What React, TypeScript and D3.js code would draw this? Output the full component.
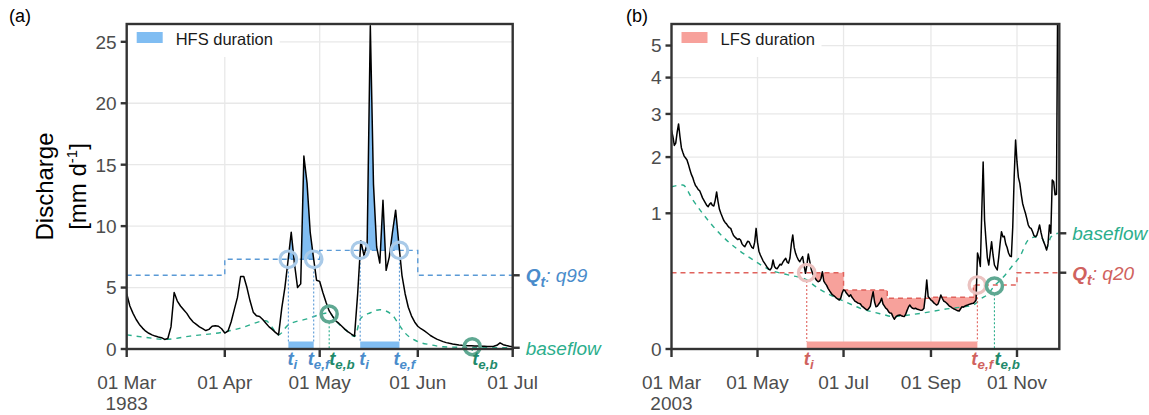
import React from "react";
import * as d3 from "d3";

const FONT = "'Liberation Sans', Arial, Helvetica, sans-serif";

// ---------------- Panel (a): 1983, high-flow spell ----------------
const aStart = "1983-03-01";
const aEnd = "1983-07-01";
const aDischarge = [
  4.5, 3.5, 2.9, 2.4, 2.0, 1.7, 1.45, 1.28, 1.15, 1.05,
  0.98, 0.92, 0.78, 0.85, 1.8, 4.6, 3.9, 3.5, 3.2, 2.9,
  2.5, 2.2, 2.0, 1.8, 1.65, 1.5, 1.6, 1.85, 1.9, 1.85,
  1.65, 1.3, 1.45, 2.2, 3.2, 4.2, 5.9, 5.9, 5.0, 3.9,
  3.0, 2.7, 2.65, 2.4, 2.1, 1.8, 1.6, 1.35, 1.15, 3.3,
  5.0, 7.2, 9.5, 7.0, 5.0, 5.3, 15.7, 13.5, 9.5, 7.5,
  5.6, 5.5, 4.6, 3.8, 3.1, 2.7, 2.3, 2.1, 1.85, 1.6,
  1.4, 1.22, 1.05, 4.5, 8.8, 7.6, 8.6, 26.3, 13.4, 8.3,
  7.0, 12.1, 6.4, 7.5, 9.5, 11.3, 8.6, 6.0, 4.5, 3.4,
  2.7, 2.2, 1.85, 1.65, 1.5, 1.3, 1.1, 0.95, 0.8, 0.7,
  0.6, 0.52, 0.46, 0.41, 0.37, 0.33, 0.3, 0.28, 0.27, 0.26,
  0.25, 0.24, 0.23, 0.22, 0.21, 0.2, 0.22, 0.3, 0.5, 0.35,
  0.28, 0.22, 0.18,
];
const aBaseDay = [0, 6, 12, 20, 31, 36, 44, 46, 48, 51, 57, 64, 66, 69, 72, 74, 77, 80, 84, 86, 88, 92, 96, 100, 110, 122];
const aBaseVal = [1.15, 0.95, 0.78, 1.05, 1.4, 1.7, 2.3, 1.75, 1.15, 1.95, 2.45, 2.95, 2.3, 1.6, 1.02, 2.5, 2.95, 3.2, 2.75, 2.0, 1.3, 0.6, 0.35, 0.18, 0.12, 0.1];
const aQtBreaks = ["1983-03-01", "1983-04-01", "1983-05-01", "1983-06-01", "1983-07-01"];
const aQtValues = [6.0, 7.3, 8.03, 6.0];
const aOnset = [51.1, 73.8];
const aEndF = [59.1, 86.2];
const aEndB = [64.0, 109.2];
const aEndBVal = [2.85, 0.19];
const aYTicks = [0, 5, 10, 15, 20, 25];
const aXTicks = ["1983-03-01", "1983-04-01", "1983-05-01", "1983-06-01", "1983-07-01"];
const aXTickLabels = ["01 Mar", "01 Apr", "01 May", "01 Jun", "01 Jul"];
const aYear = "1983";

// ---------------- Panel (b): 2003, low-flow spell ----------------
const bStart = "2003-03-01";
const bEnd = "2003-12-01";
const bDischarge = [
  2.6, 2.45, 2.25, 2.3, 2.55, 2.75, 2.45, 2.2, 2.1, 2.02,
  1.98, 1.94, 1.85, 1.75, 1.66, 1.6, 1.52, 1.45, 1.42, 1.38,
  1.36, 1.3, 1.24, 1.2, 1.16, 1.12, 1.1, 1.14, 1.16, 1.12,
  1.11, 1.2, 1.34, 1.18, 1.06, 1.0, 0.95, 0.9, 0.87, 0.85,
  0.82, 0.8, 0.79, 0.74, 0.7, 0.68, 0.665, 0.65, 0.66, 0.645,
  0.6, 0.58, 0.568, 0.6, 0.63, 0.625, 0.59, 0.56, 0.55, 0.62,
  0.79, 0.62, 0.52, 0.48, 0.45, 0.42, 0.4, 0.38, 0.36, 0.345,
  0.34, 0.36, 0.43, 0.37, 0.354, 0.35, 0.37, 0.39, 0.383, 0.41,
  0.43, 0.447, 0.41, 0.4, 0.45, 0.6, 0.706, 0.56, 0.497, 0.46,
  0.43, 0.414, 0.44, 0.463, 0.38, 0.311, 0.38, 0.49, 0.42, 0.35,
  0.311, 0.29, 0.27, 0.255, 0.246, 0.25, 0.27, 0.324, 0.25, 0.234,
  0.22, 0.2, 0.185, 0.172, 0.16, 0.155, 0.148, 0.14, 0.135, 0.13,
  0.14, 0.17, 0.19, 0.185, 0.17, 0.16, 0.15, 0.16, 0.145, 0.135,
  0.125, 0.12, 0.115, 0.113, 0.11, 0.1, 0.095, 0.09, 0.085, 0.083,
  0.09, 0.1, 0.14, 0.178, 0.12, 0.097, 0.1, 0.11, 0.12, 0.14,
  0.11, 0.1, 0.09, 0.085, 0.075, 0.07, 0.069, 0.057, 0.048, 0.055,
  0.06, 0.062, 0.063, 0.06, 0.058, 0.057, 0.065, 0.08, 0.095, 0.105,
  0.095, 0.09, 0.088, 0.09, 0.087, 0.085, 0.083, 0.082, 0.083, 0.09,
  0.15, 0.259, 0.149, 0.14, 0.13, 0.125, 0.115, 0.11, 0.105, 0.11,
  0.13, 0.158, 0.14, 0.125, 0.121, 0.115, 0.108, 0.1, 0.097, 0.092,
  0.088, 0.085, 0.082, 0.079, 0.078, 0.088, 0.097, 0.095, 0.1, 0.103,
  0.105, 0.108, 0.11, 0.112, 0.113, 0.12, 0.13, 0.5, 0.45, 0.37,
  1.0, 1.9, 0.9, 0.645, 0.45, 0.383, 0.5, 0.625, 0.48, 0.383,
  0.36, 0.339, 0.45, 0.6, 0.747, 0.685, 0.69, 0.6, 0.56, 0.5,
  0.47, 0.463, 0.812, 1.6, 2.37, 1.9, 1.6, 1.49, 1.3, 1.15,
  1.07, 1.0, 0.92, 0.835, 0.8, 0.79, 0.75, 0.7, 0.685, 0.7,
  0.76, 0.835, 0.74, 0.665, 0.62, 0.58, 0.532, 0.6, 0.835, 0.727,
  1.55, 1.52, 1.29, 1.3, 8.0,
];
const bBaseDay = [0, 8, 15, 22, 34, 46, 58, 70, 82, 96, 101, 112, 122, 134, 150, 157, 167, 180, 193, 205, 214, 220, 224, 229, 236, 242, 247, 253, 259, 263, 266, 269, 274];
const bBaseVal = [1.43, 1.46, 1.21, 1.0, 0.727, 0.55, 0.43, 0.339, 0.3, 0.26, 0.22, 0.16, 0.125, 0.09, 0.065, 0.057, 0.062, 0.072, 0.085, 0.095, 0.105, 0.14, 0.16, 0.216, 0.29, 0.38, 0.463, 0.645, 0.685, 0.66, 0.55, 0.68, 0.727];
const bQtBreaks = ["2003-03-01", "2003-04-01", "2003-05-01", "2003-06-01", "2003-07-01", "2003-08-01", "2003-09-01", "2003-10-01", "2003-11-01", "2003-12-01"];
const bQtValues = [0.316, 0.316, 0.316, 0.316, 0.189, 0.14, 0.145, 0.222, 0.316];
const bOnset = [95.9];
const bEndF = [216.9];
const bEndB = [229.0];
const bEndBVal = [0.216];
const bYTicks = [0, 1, 2, 3, 4, 5];
const bXTicks = ["2003-03-01", "2003-05-01", "2003-07-01", "2003-09-01", "2003-11-01"];
const bXTickLabels = ["01 Mar", "01 May", "01 Jul", "01 Sep", "01 Nov"];
const bYear = "2003";

const parse = (s: string) => new Date(s + "T00:00:00Z");
const dayDate = (start: string, d: number) => new Date(parse(start).getTime() + d * 864e5);

type Cfg = {
  id: string;
  letter: string;
  letterX: number;
  left: number;
  right: number;
  top: number;
  bottom: number;
  start: string;
  end: string;
  sqrt: boolean;
  yMax: number;
  yTicks: number[];
  xTicks: string[];
  xTickLabels: string[];
  year: string;
  q: number[];
  baseDay: number[];
  baseVal: number[];
  qtBreaks: string[];
  qtValues: number[];
  onset: number[];
  endF: number[];
  endB: number[];
  endBVal: number[];
  mode: "high" | "low";
  fill: string;
  lineCol: string;
  textCol: string;
  ringCol: string;
  legend: string;
  qtName: string;
  nudgeI: number;
  nudgeF: number;
  nudgeB: number;
};

const GREEN = "#2BAE8C";
const GREEN_DARK = "#1F8A6B";
const RING_GREEN = "#5FA892";

function Sub({ main, sub, x, y, color, size }: { main: string; sub: string; x: number; y: number; color: string; size: number }) {
  return (
    <text x={x} y={y} fill={color} fontStyle="italic" fontWeight="bold" fontSize={size} fontFamily={FONT}>
      <tspan>{main}</tspan>
      <tspan dy={4} fontSize={size * 0.72}>{sub}</tspan>
    </text>
  );
}

function Panel({ c }: { c: Cfg }) {
  const { left, right, top, bottom } = c;
  const x = d3.scaleUtc().domain([parse(c.start), parse(c.end)]).range([left, right]);
  const y = c.sqrt
    ? d3.scaleSqrt().domain([0, c.yMax]).range([bottom, top])
    : d3.scaleLinear().domain([0, c.yMax]).range([bottom, top]);

  const breaks = c.qtBreaks.map(parse);
  const qtAt = (d: Date) => {
    for (let i = 0; i < c.qtValues.length; i++) if (d < breaks[i + 1]) return c.qtValues[i];
    return c.qtValues[c.qtValues.length - 1];
  };
  const stepPts = (d0: Date, d1: Date): [number, number][] => {
    const pts: [number, number][] = [[x(d0), y(qtAt(d0))]];
    for (let i = 1; i < breaks.length - 1; i++) {
      const b = breaks[i];
      if (b > d0 && b < d1) {
        pts.push([x(b), y(c.qtValues[i - 1])]);
        pts.push([x(b), y(c.qtValues[i])]);
      }
    }
    const last = new Date(d1.getTime() - 1);
    pts.push([x(d1), y(qtAt(last))]);
    return pts;
  };

  const lineGen = d3.line<[number, number]>();
  const qtPath = lineGen(stepPts(parse(c.start), parse(c.end))) || "";

  const qLine = d3
    .line<number>()
    .x((_, i) => x(dayDate(c.start, i)))
    .y((d) => y(d))(c.q) || "";

  const baseLine = d3
    .line<number>()
    .x((_, i) => x(dayDate(c.start, c.baseDay[i])))
    .y((d) => y(d))
    .curve(d3.curveMonotoneX)(c.baseVal) || "";

  const area = d3
    .area<number>()
    .x((_, i) => x(dayDate(c.start, i)))
    .y0(c.mode === "high" ? y(0) : top - 5)
    .y1((d) => y(d))(c.q) || "";

  let clipD = "";
  if (c.mode === "high") {
    const pts = stepPts(parse(c.start), parse(c.end));
    clipD = lineGen([[left, top - 10], ...pts, [right, top - 10]]) + "Z";
  } else {
    c.onset.forEach((on, k) => {
      const d0 = dayDate(c.start, on);
      const d1 = dayDate(c.start, c.endF[k]);
      const pts = stepPts(d0, d1);
      clipD += lineGen([[x(d0), bottom], ...pts, [x(d1), bottom]]) + "Z";
    });
  }

  const gridYs = c.yTicks.filter((t) => t > 0);
  const gridXs = c.xTicks.map(parse).filter((d) => x(d) > left + 1 && x(d) < right - 1);
  const axisCol = "#333333";
  const tickTxt = "#4D4D4D";
  const qtEnd = c.qtValues[c.qtValues.length - 1];
  const baseEnd = c.baseVal[c.baseVal.length - 1];
  const ringR = 8.3;
  const barH = 7.5;

  return (
    <g>
      <defs>
        <clipPath id={`panel-${c.id}`}>
          <rect x={left} y={top} width={right - left} height={bottom - top} />
        </clipPath>
        <clipPath id={`spell-${c.id}`}>
          <path d={clipD} />
        </clipPath>
      </defs>
      <rect x={left} y={top} width={right - left} height={bottom - top} fill="#FFFFFF" />
      {gridYs.map((t) => (
        <line key={"gy" + t} x1={left} x2={right} y1={y(t)} y2={y(t)} stroke="#E8E8E8" strokeWidth={1.3} />
      ))}
      {gridXs.map((d, i) => (
        <line key={"gx" + i} x1={x(d)} x2={x(d)} y1={top} y2={bottom} stroke="#E8E8E8" strokeWidth={1.3} />
      ))}
      <rect x={left + 1} y={top + 1} width={c.id === "a" ? 152 : 149} height={32} fill="#FFFFFF" />
      <rect x={left + 10} y={top + 8} width={26} height={11} fill={c.fill} />
      <text x={left + 49} y={top + 21} fontSize={16.5} fontFamily={FONT} fill="#1A1A1A">
        {c.legend}
      </text>
      <g clipPath={`url(#spell-${c.id})`}>
        <path d={area} fill={c.fill} />
      </g>
      <g clipPath={`url(#panel-${c.id})`}>
        <path d={qtPath} fill="none" stroke={c.lineCol} strokeWidth={1.4} strokeDasharray="5,4" />
        <path d={baseLine} fill="none" stroke={GREEN} strokeWidth={1.4} strokeDasharray="5,5" />
      </g>
      {c.onset.map((on, k) => (
        <rect
          key={"bar" + k}
          x={x(dayDate(c.start, on))}
          y={bottom - barH}
          width={x(dayDate(c.start, c.endF[k])) - x(dayDate(c.start, on))}
          height={barH}
          fill={c.fill}
        />
      ))}
      {c.onset.map((on, k) => {
        const d0 = dayDate(c.start, on);
        const d1 = dayDate(c.start, c.endF[k]);
        return (
          <g key={"vd" + k}>
            <line x1={x(d0)} x2={x(d0)} y1={y(qtAt(d0)) + ringR} y2={bottom - barH} stroke={c.lineCol} strokeWidth={1.1} strokeDasharray="2,2" />
            <line x1={x(d1)} x2={x(d1)} y1={y(qtAt(new Date(d1.getTime() - 1))) + ringR} y2={bottom - barH} stroke={c.lineCol} strokeWidth={1.1} strokeDasharray="2,2" />
          </g>
        );
      })}
      {c.endB.map((eb, k) => (
        <line key={"vb" + k} x1={x(dayDate(c.start, eb))} x2={x(dayDate(c.start, eb))} y1={y(c.endBVal[k]) + ringR} y2={bottom} stroke={GREEN} strokeWidth={1.1} strokeDasharray="2,2" />
      ))}
      <g clipPath={`url(#panel-${c.id})`}>
        <path d={qLine} fill="none" stroke="#000000" strokeWidth={1.5} strokeLinejoin="round" />
      </g>
      {c.onset.map((on, k) => {
        const d0 = dayDate(c.start, on);
        const d1 = dayDate(c.start, c.endF[k]);
        return (
          <g key={"rg" + k}>
            <circle cx={x(d0)} cy={y(qtAt(d0))} r={ringR} fill="none" stroke={c.ringCol} strokeWidth={3.2} />
            <circle cx={x(d1)} cy={y(qtAt(new Date(d1.getTime() - 1)))} r={ringR} fill="none" stroke={c.ringCol} strokeWidth={3.2} />
          </g>
        );
      })}
      {c.endB.map((eb, k) => (
        <circle key={"rb" + k} cx={x(dayDate(c.start, eb))} cy={y(c.endBVal[k])} r={8} fill="none" stroke={RING_GREEN} strokeWidth={3.5} />
      ))}
      <rect x={left} y={top} width={right - left} height={bottom - top} fill="none" stroke={axisCol} strokeWidth={2.4} />
      {c.yTicks.map((t) => (
        <g key={"yt" + t}>
          <line x1={left - 6} x2={left} y1={y(t)} y2={y(t)} stroke={axisCol} strokeWidth={2.4} />
          <text x={left - 10} y={y(t)} dy="0.36em" textAnchor="end" fontSize={19} fontFamily={FONT} fill={tickTxt}>
            {t}
          </text>
        </g>
      ))}
      {c.xTicks.map((s, i) => (
        <g key={"xt" + s}>
          <line x1={x(parse(s))} x2={x(parse(s))} y1={bottom} y2={bottom + 8} stroke={axisCol} strokeWidth={2.4} />
          <text x={x(parse(s))} y={bottom + 40} textAnchor="middle" fontSize={19} fontFamily={FONT} fill={tickTxt}>
            {c.xTickLabels[i]}
          </text>
          {i === 0 && (
            <text x={x(parse(s))} y={bottom + 61} textAnchor="middle" fontSize={19} fontFamily={FONT} fill={tickTxt}>
              {c.year}
            </text>
          )}
        </g>
      ))}
      <line x1={right} x2={right + 7} y1={y(qtEnd)} y2={y(qtEnd)} stroke={axisCol} strokeWidth={2.4} />
      <line x1={right} x2={right + 7} y1={y(baseEnd)} y2={y(baseEnd)} stroke={axisCol} strokeWidth={2.4} />
      <text x={right + 13} y={y(baseEnd)} dy="0.36em" fontSize={19} fontStyle="italic" fontFamily={FONT} fill={GREEN}>
        baseflow
      </text>
      <text x={right + 13} y={y(qtEnd)} dy="0.36em" fontSize={19} fontFamily={FONT} fill={c.textCol} fontStyle="italic">
        <tspan fontWeight="bold">Q</tspan>
        <tspan fontWeight="bold" dy={5} fontSize={14}>t</tspan>
        <tspan dy={-5}>: {c.qtName}</tspan>
      </text>
      {c.onset.map((on, k) => (
        <g key={"lb" + k}>
          <Sub main="t" sub="i" x={x(dayDate(c.start, on)) + c.nudgeI} y={bottom + 16} color={c.textCol} size={18.5} />
          <Sub main="t" sub="e,f" x={x(dayDate(c.start, c.endF[k])) + c.nudgeF} y={bottom + 16} color={c.textCol} size={18.5} />
        </g>
      ))}
      {c.endB.map((eb, k) => (
        <Sub key={"lbb" + k} main="t" sub="e,b" x={x(dayDate(c.start, eb)) + c.nudgeB} y={bottom + 16} color={GREEN_DARK} size={18.5} />
      ))}
      <text x={c.letterX} y={22} fontSize={18} fontFamily={FONT} fill="#000000">
        {c.letter}
      </text>
    </g>
  );
}

const cfgA: Cfg = {
  id: "a",
  letter: "(a)",
  letterX: 9,
  left: 126.7,
  right: 512.7,
  top: 24,
  bottom: 349,
  start: aStart,
  end: aEnd,
  sqrt: false,
  yMax: 26.45,
  yTicks: aYTicks,
  xTicks: aXTicks,
  xTickLabels: aXTickLabels,
  year: aYear,
  q: aDischarge,
  baseDay: aBaseDay,
  baseVal: aBaseVal,
  qtBreaks: aQtBreaks,
  qtValues: aQtValues,
  onset: aOnset,
  endF: aEndF,
  endB: aEndB,
  endBVal: aEndBVal,
  mode: "high",
  fill: "#80BDF2",
  lineCol: "#5A9AD6",
  textCol: "#4A8CCB",
  ringCol: "#A9CAE8",
  legend: "HFS duration",
  qtName: "q99",
  nudgeI: -1,
  nudgeF: -6,
  nudgeB: 0,
};

const cfgB: Cfg = {
  id: "b",
  letter: "(b)",
  letterX: 626,
  left: 671.5,
  right: 1059.3,
  top: 24,
  bottom: 349,
  start: bStart,
  end: bEnd,
  sqrt: true,
  yMax: 5.735,
  yTicks: bYTicks,
  xTicks: bXTicks,
  xTickLabels: bXTickLabels,
  year: bYear,
  q: bDischarge,
  baseDay: bBaseDay,
  baseVal: bBaseVal,
  qtBreaks: bQtBreaks,
  qtValues: bQtValues,
  onset: bOnset,
  endF: bEndF,
  endB: bEndB,
  endBVal: bEndBVal,
  mode: "low",
  fill: "#F7A19B",
  lineCol: "#E0625C",
  textCol: "#D0625E",
  ringCol: "#EBC2C0",
  legend: "LFS duration",
  qtName: "q20",
  nudgeI: -3,
  nudgeF: -6,
  nudgeB: 0,
};

export default function App() {
  return (
    <svg width={1149} height={415} viewBox="0 0 1149 415" style={{ display: "block", position: "absolute", left: 0, top: 0, background: "#FFFFFF" }}>
      <rect x={0} y={0} width={1149} height={415} fill="#FFFFFF" />
      <text transform="translate(53,186.5) rotate(-90)" textAnchor="middle" fontSize={24} fontFamily={FONT} fill="#000000">
        Discharge
      </text>
      <text transform="translate(86,186.5) rotate(-90)" textAnchor="middle" fontSize={24} fontFamily={FONT} fill="#000000">
        <tspan>[mm d</tspan>
        <tspan dy={-9} fontSize={15}>-1</tspan>
        <tspan dy={9}>]</tspan>
      </text>
      <Panel c={cfgA} />
      <Panel c={cfgB} />
    </svg>
  );
}
